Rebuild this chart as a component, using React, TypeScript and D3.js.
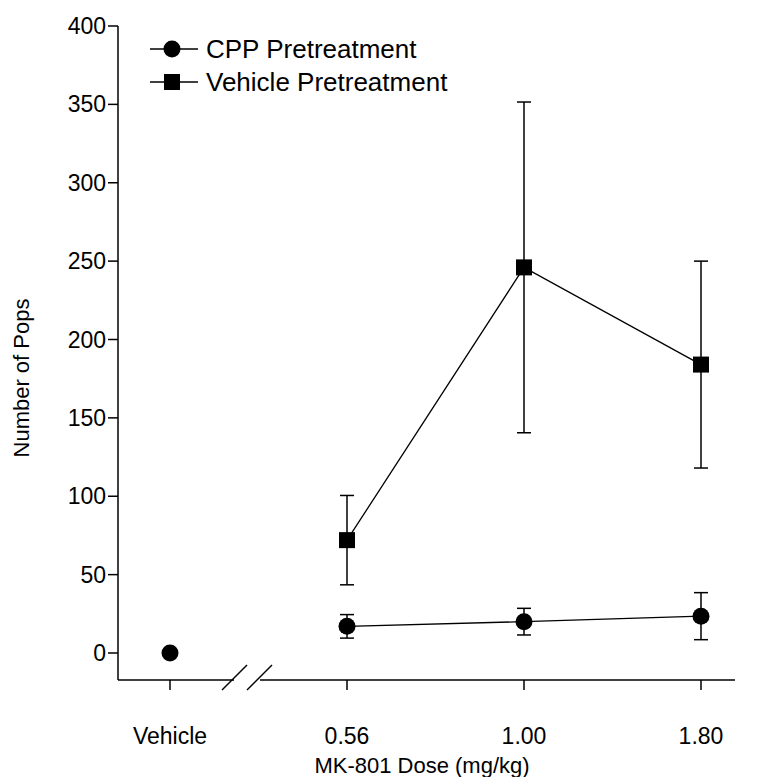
import * as d3 from 'd3';

const doses = ['Vehicle', '0.56', '1.00', '1.80'];
const cppMean = [0, 17, 20, 23.5];
const cppSem = [0, 7.5, 8.5, 15];
const vehMean = [0, 72, 246, 184];
const vehSem = [0, 28.5, 105.5, 66];
const yTicks = [0, 50, 100, 150, 200, 250, 300, 350, 400];

const width = 760;
const height = 777;
const font = 'Liberation Sans, Arial, sans-serif';

export default function App() {
    const x = d3.scalePoint().domain(doses).range([170, 701]);
    const y = d3.scaleLinear().domain([0, 400]).range([653, 26]);
    const axisY = 680;
    const axisLeft = 118;

    // lines start at the first real dose, the vehicle point stands alone
    const line = d3
        .line<number>()
        .x((d, i) => x(doses[i + 1]) as number)
        .y(d => y(d));

    const errorBars = (means: number[], sems: number[]) =>
        means.map((m, i) => {
            if (!sems[i]) return null;
            const cx = x(doses[i]) as number;
            const top = y(m + sems[i]);
            const bot = y(m - sems[i]);
            return (
                <g key={i} stroke="#000" strokeWidth={1.5}>
                    <line x1={cx} x2={cx} y1={top} y2={bot} />
                    <line x1={cx - 7} x2={cx + 7} y1={top} y2={top} />
                    <line x1={cx - 7} x2={cx + 7} y1={bot} y2={bot} />
                </g>
            );
        });

    return (
        <svg width={width} height={height} style={{ position: 'absolute', left: 0, top: 0 }}>
            <rect width={width} height={height} fill="#fff" />

            {/* y axis */}
            <line x1={axisLeft} x2={axisLeft} y1={y(400)} y2={axisY} stroke="#000" strokeWidth={1.5} />
            {yTicks.map(t => (
                <g key={t}>
                    <line x1={axisLeft - 10} x2={axisLeft} y1={y(t)} y2={y(t)} stroke="#000" strokeWidth={1.5} />
                    <text x={106} y={y(t)} dy="0.35em" textAnchor="end" fontFamily={font} fontSize={23}>
                        {t}
                    </text>
                </g>
            ))}
            <text
                transform={`translate(29,378) rotate(-90)`}
                textAnchor="middle"
                fontFamily={font}
                fontSize={22}
            >
                Number of Pops
            </text>

            {/* x axis with break */}
            <line x1={axisLeft} x2={234} y1={axisY} y2={axisY} stroke="#000" strokeWidth={1.5} />
            <line x1={260} x2={735} y1={axisY} y2={axisY} stroke="#000" strokeWidth={1.5} />
            <line x1={222} x2={247} y1={690} y2={665} stroke="#000" strokeWidth={1.5} />
            <line x1={247} x2={272} y1={690} y2={665} stroke="#000" strokeWidth={1.5} />
            {doses.map(d => (
                <g key={d}>
                    <line x1={x(d)} x2={x(d)} y1={axisY} y2={axisY + 10} stroke="#000" strokeWidth={1.5} />
                    <text x={x(d)} y={744} textAnchor="middle" fontFamily={font} fontSize={23}>
                        {d}
                    </text>
                </g>
            ))}
            <text x={422} y={773} textAnchor="middle" fontFamily={font} fontSize={22}>
                MK-801 Dose (mg/kg)
            </text>

            {/* vehicle pretreatment (vehicle dose point sits under the circle) */}
            <path d={line(vehMean.slice(1)) || ''} fill="none" stroke="#000" strokeWidth={1.3} />
            {errorBars(vehMean, vehSem)}
            {vehMean.map((m, i) =>
                i === 0 ? null : (
                    <rect key={i} x={(x(doses[i]) as number) - 8} y={y(m) - 8} width={16} height={16} fill="#000" />
                )
            )}

            {/* CPP pretreatment */}
            <path d={line(cppMean.slice(1)) || ''} fill="none" stroke="#000" strokeWidth={1.3} />
            {errorBars(cppMean, cppSem)}
            {cppMean.map((m, i) => (
                <circle key={i} cx={x(doses[i])} cy={y(m)} r={8.5} fill="#000" />
            ))}

            {/* legend */}
            <line x1={150} x2={198} y1={49} y2={49} stroke="#000" strokeWidth={1.3} />
            <circle cx={172} cy={49} r={8.5} fill="#000" />
            <text x={206} y={49} dy="0.35em" fontFamily={font} fontSize={26}>CPP Pretreatment</text>
            <line x1={150} x2={198} y1={82} y2={82} stroke="#000" strokeWidth={1.3} />
            <rect x={164} y={74} width={16} height={16} fill="#000" />
            <text x={206} y={82} dy="0.35em" fontFamily={font} fontSize={26}>Vehicle Pretreatment</text>
        </svg>
    );
}
